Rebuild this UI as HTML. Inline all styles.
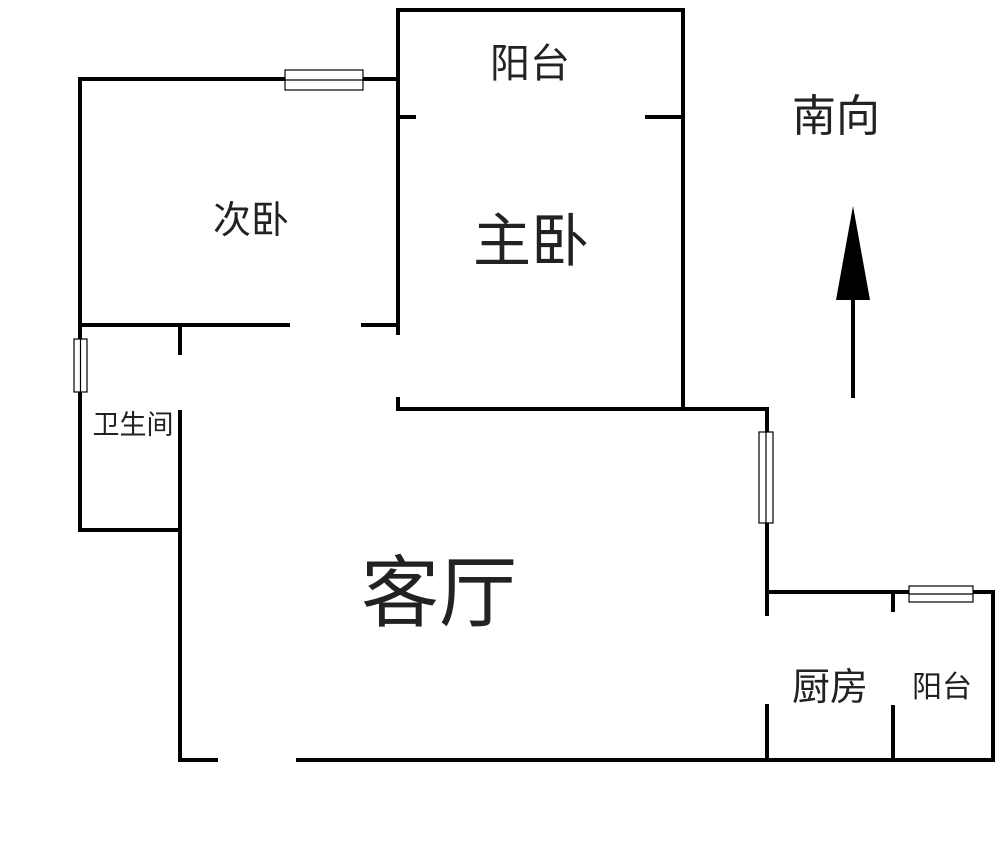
<!DOCTYPE html>
<html><head><meta charset="utf-8"><style>
html,body{margin:0;padding:0;background:#fff;}
svg text{font-family:"Liberation Sans","Noto Sans CJK SC",sans-serif;fill:#222;text-anchor:middle;}
</style></head><body>
<svg width="1000" height="847" viewBox="0 0 1000 847" xmlns="http://www.w3.org/2000/svg">
<g stroke="#000" stroke-width="4" fill="none" stroke-linecap="square">
<line x1="80" y1="79" x2="398" y2="79"/>
<line x1="80" y1="79" x2="80" y2="530"/>
<line x1="80" y1="325" x2="288" y2="325"/>
<line x1="363" y1="325" x2="398" y2="325"/>
<line x1="180" y1="325" x2="180" y2="353"/>
<line x1="180" y1="412" x2="180" y2="760"/>
<line x1="80" y1="530" x2="180" y2="530"/>
<line x1="398" y1="10" x2="398" y2="333"/>
<line x1="398" y1="399" x2="398" y2="409"/>
<line x1="398" y1="409" x2="767" y2="409"/>
<line x1="398" y1="10" x2="683" y2="10"/>
<line x1="683" y1="10" x2="683" y2="409"/>
<line x1="398" y1="117" x2="414" y2="117"/>
<line x1="647" y1="117" x2="683" y2="117"/>
<line x1="767" y1="409" x2="767" y2="614"/>
<line x1="767" y1="592" x2="993" y2="592"/>
<line x1="993" y1="592" x2="993" y2="760"/>
<line x1="893" y1="592" x2="893" y2="610"/>
<line x1="767" y1="706" x2="767" y2="760"/>
<line x1="893" y1="707" x2="893" y2="760"/>
<line x1="180" y1="760" x2="216" y2="760"/>
<line x1="298" y1="760" x2="993" y2="760"/>
<line x1="853" y1="298" x2="853" y2="396"/>
</g>
<g stroke="#000" stroke-width="1.2" fill="#fff">
<rect x="285" y="70" width="78" height="20"/><line x1="285" y1="80" x2="363" y2="80"/>
<rect x="74" y="339" width="13" height="53"/><line x1="80.5" y1="339" x2="80.5" y2="392"/>
<rect x="759" y="432" width="14" height="91"/><line x1="766" y1="432" x2="766" y2="523"/>
<rect x="909" y="586" width="64" height="16"/><line x1="909" y1="594" x2="973" y2="594"/>
</g>
<polygon points="853,206 836,300 870,300" fill="#000"/>
<text x="530" y="77" font-size="40">阳台</text>
<text x="836" y="131" font-size="44">南向</text>
<text x="251" y="233" font-size="38">次卧</text>
<text x="531" y="261" font-size="58">主卧</text>
<text x="133" y="434" font-size="27">卫生间</text>
<text x="439" y="620" font-size="78">客厅</text>
<text x="830" y="700" font-size="38">厨房</text>
<text x="942" y="697" font-size="30">阳台</text>
</svg>
</body></html>
